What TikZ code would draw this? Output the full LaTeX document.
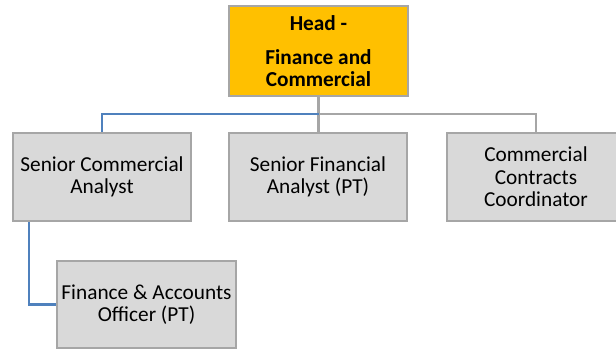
\documentclass[tikz,border=0pt]{standalone}
\usepackage{fontspec}
\setmainfont{Carlito}
\definecolor{boxgray}{RGB}{217,217,217}
\definecolor{edgegray}{RGB}{166,166,166}
\definecolor{headorange}{RGB}{255,192,0}
\definecolor{linkblue}{RGB}{79,129,189}
\begin{document}
\begin{tikzpicture}[x=1pt,y=-1pt,
  rolebox/.style={draw=edgegray, line width=2.2pt, fill=boxgray, inner sep=0pt,
    minimum width=178pt, minimum height=88pt, align=center,
    font=\fontsize{21.3}{22.5}\selectfont},
  headbox/.style={rolebox, fill=headorange, minimum width=179pt, minimum height=90pt,
    font=\fontsize{21.3}{22}\selectfont\bfseries},
  grayline/.style={draw=edgegray, line width=2.1pt},
  blueline/.style={draw=linkblue, line width=2.1pt}]
  \useasboundingbox (0,0) rectangle (616,351);
  \clip (0,0) rectangle (616,351);

  % org chart boxes
  \node[headbox] (head) at (318.5,51) {Head -\\[12pt]Finance and\\Commercial};
  \node[rolebox] (sca) at (102,177) {Senior Commercial\\Analyst};
  \node[rolebox] (sfa) at (318,177) {Senior Financial\\Analyst (PT)};
  \node[rolebox] (ccc) at (536,177) {Commercial\\Contracts\\Coordinator};
  \node[rolebox, minimum width=179pt, minimum height=87pt] (fao) at (146.5,304.5)
    {Finance \& Accounts\\Officer (PT)};

  % reporting lines
  \coordinate (j) at (318.5,114);
  \draw[grayline] (head.south) -- (j) -| (ccc.north);
  \draw[grayline] (j) -- (j |- sfa.north);
  \draw[blueline] (j) -| (sca.north);
  \draw[blueline] ([xshift=17pt]sca.south west) |- (fao.west);
\end{tikzpicture}
\end{document}
